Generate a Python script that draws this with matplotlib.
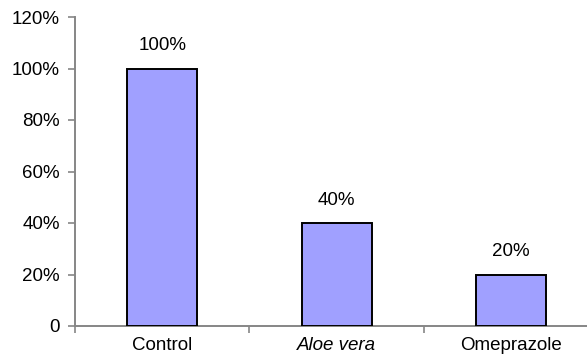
import matplotlib
matplotlib.use("Agg")
import matplotlib.pyplot as plt
from matplotlib.ticker import FixedLocator

categories = ["Control", "Aloe vera", "Omeprazole"]
values = [100, 40, 20]
value_labels = ["100%", "40%", "20%"]
yticks = [0, 20, 40, 60, 80, 100, 120]
ytick_labels = ["0", "20%", "40%", "60%", "80%", "100%", "120%"]

plt.rcParams['font.family'] = ['Liberation Sans', 'DejaVu Sans']

fig = plt.figure(figsize=(5.87, 3.54), dpi=100)
ax = fig.add_axes([75/587, 1-326/354, 523.5/587, (326-17)/354])

x = list(range(len(categories)))
ax.bar(x, values, width=0.40, color='#A0A0FF', edgecolor='black', linewidth=1.4, zorder=3)

for xi, v, lab in zip(x, values, value_labels):
    ax.annotate(lab, (xi, v), xytext=(0, 13), textcoords='offset points',
                ha='center', va='baseline', fontsize=13.5, color='black')

ax.set_xlim(-0.5, 2.5)
ax.set_ylim(0, 120)
ax.set_yticks(yticks)
ax.set_yticklabels(ytick_labels, fontsize=13.5)
ax.set_xticks(x)
ax.set_xticklabels(categories, fontsize=13.5)
ax.get_xticklabels()[1].set_style('italic')
ax.xaxis.set_minor_locator(FixedLocator([-0.5, 0.5, 1.5, 2.5]))
ax.tick_params(axis='x', which='major', length=0, pad=8)
ax.tick_params(axis='x', which='minor', length=5, width=1.2, color='#868686', direction='out')
ax.tick_params(axis='y', length=5, width=1.2, color='#868686', direction='out', pad=6)

for s in ['top', 'right']:
    ax.spines[s].set_visible(False)
for s in ['left', 'bottom']:
    ax.spines[s].set_color('#868686')
    ax.spines[s].set_linewidth(1.4)

fig.savefig('out.png', dpi=100)
